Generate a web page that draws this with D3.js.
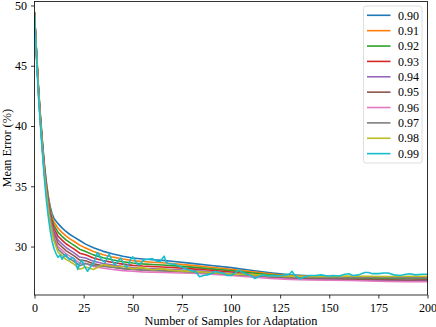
<!doctype html>
<meta charset="utf-8">
<body style="margin:0;background:#fff">

<div id="chart"></div>

<script src="https://d3js.org/d3.v7.min.js"></script>
<script>

// sample counts shared by the 0.90 - 0.98 curves
const samples = [0, 1, 2, 3, 4, 5, 6, 7, 8, 9, 10, 12, 14, 16, 18, 20, 23, 26, 30,
  35, 40, 45, 50, 55, 60, 65, 70, 80, 90, 100, 110, 120, 130, 140, 150, 160, 170, 180, 190, 200]

const err090 = [49.4, 46.3, 43.3, 40.9, 38.8, 36.9, 35.4, 34.2, 33.3, 32.7, 32.3, 31.9, 31.55, 31.25, 31.0, 30.8, 30.5, 30.2, 29.9,
  29.6, 29.38, 29.2, 29.05, 28.97, 28.9, 28.85, 28.78, 28.6, 28.43, 28.25, 28.03, 27.83, 27.66, 27.57, 27.52, 27.49, 27.47, 27.45, 27.44, 27.43]
const err091 = [49.38, 46.24, 43.22, 40.8, 38.68, 36.76, 35.24, 34.02, 33.08, 32.44, 32.0, 31.52, 31.18, 30.88, 30.64, 30.44, 30.12, 29.88, 29.59,
  29.32, 29.12, 28.96, 28.83, 28.76, 28.7, 28.65, 28.59, 28.44, 28.28, 28.12, 27.92, 27.74, 27.58, 27.52, 27.49, 27.46, 27.44, 27.41, 27.40, 27.39]
const err092 = [49.36, 46.19, 43.15, 40.71, 38.57, 36.63, 35.1, 33.86, 32.88, 32.21, 31.73, 31.18, 30.85, 30.55, 30.32, 30.12, 29.78, 29.59, 29.31,
  29.07, 28.89, 28.74, 28.63, 28.56, 28.51, 28.47, 28.42, 28.29, 28.15, 28.0, 27.82, 27.65, 27.53, 27.47, 27.42, 27.40, 27.37, 27.34, 27.33, 27.32]
const err093 = [49.34, 46.13, 43.08, 40.62, 38.47, 36.51, 34.96, 33.7, 32.69, 31.98, 31.47, 30.85, 30.53, 30.23, 30.01, 29.81, 29.45, 29.32, 29.05,
  28.83, 28.68, 28.54, 28.44, 28.38, 28.34, 28.3, 28.26, 28.15, 28.03, 27.89, 27.7, 27.52, 27.39, 27.31, 27.26, 27.24, 27.2, 27.14, 27.12, 27.12]
const err094 = [49.33, 46.08, 43.01, 40.54, 38.37, 36.4, 34.82, 33.55, 32.51, 31.76, 31.22, 30.53, 30.22, 29.92, 29.7, 29.5, 29.13, 29.05, 28.78,
  28.59, 28.46, 28.34, 28.26, 28.2, 28.17, 28.13, 28.1, 28.01, 27.9, 27.78, 27.6, 27.46, 27.36, 27.3, 27.26, 27.24, 27.21, 27.17, 27.15, 27.15]
const err095 = [49.31, 46.04, 42.96, 40.47, 38.28, 36.3, 34.71, 33.43, 32.35, 31.58, 31.01, 30.27, 29.96, 29.66, 29.45, 29.25, 28.87, 28.82, 28.57,
  28.4, 28.28, 28.17, 28.1, 28.05, 28.02, 27.99, 27.96, 27.89, 27.8, 27.69, 27.59, 27.48, 27.39, 27.35, 27.33, 27.3, 27.27, 27.24, 27.23, 27.24]
const err096 = [49.3, 46.0, 42.9, 40.4, 38.2, 36.2, 34.6, 33.3, 32.2, 31.4, 30.8, 30.0, 29.7, 29.4, 29.2, 29.0, 28.6, 28.6, 28.35,
  28.2, 28.1, 28.0, 27.95, 27.9, 27.88, 27.85, 27.83, 27.78, 27.7, 27.6, 27.48, 27.36, 27.28, 27.23, 27.2, 27.18, 27.14, 27.1, 27.08, 27.08]
const err097 = [49.29, 45.96, 42.85, 40.34, 38.13, 36.12, 34.5, 33.19, 32.07, 31.24, 30.62, 29.77, 29.48, 29.18, 28.98, 28.78, 28.41, 28.6, 28.43,
  28.34, 28.29, 28.18, 28.11, 28.06, 28.03, 28.0, 27.97, 27.9, 27.81, 27.7, 27.62, 27.52, 27.45, 27.42, 27.41, 27.41, 27.42, 27.41, 27.4, 27.39]
const err098 = [49.28, 45.92, 42.8, 40.27, 38.05, 36.02, 34.4, 33.07, 31.92, 31.07, 30.42, 29.52, 29.24, 28.94, 28.75, 28.55, 28.12, 28.3, 28.1,
  28.5, 28.36, 28.35, 28.17, 28.25, 28.08, 28.15, 28.02, 27.94, 27.85, 27.73, 27.67, 27.59, 27.55, 27.52, 27.52, 27.55, 27.54, 27.52, 27.54, 27.53]

// the 0.99 curve is noisier, so it has its own finer sample counts
const samples099 = [0, 1, 2, 3, 4, 5, 6, 7, 8, 9,
  10, 11, 12, 13, 14, 15, 16, 17, 18, 19,
  20, 21, 22, 23, 24, 25, 26, 27, 28, 29,
  30, 31, 32, 33, 34, 35, 36, 37, 38, 39,
  40, 41, 42, 43, 44, 45, 46, 47, 48, 49,
  50, 51, 52, 53, 54, 55, 56, 58, 60, 62,
  64, 65, 66, 67, 68, 70, 72, 74, 76, 78,
  80, 82, 84, 86, 88, 90, 92, 94, 96, 98,
  100, 102, 104, 106, 108, 110, 112, 114, 116, 118,
  120, 122, 124, 126, 128, 130, 131, 132, 134, 135,
  137, 140, 143, 146, 149, 152, 155, 158, 160, 162,
  165, 168, 170, 172, 175, 178, 180, 183, 186, 189,
  191, 194, 197, 200]
const err099 = [49.2, 45.7, 42.5, 40.1, 37.8, 35.7, 33.9, 32.5, 31.3, 30.4,
  29.8, 29.4, 29.1, 29.3, 28.95, 29.2, 29.35, 29.05, 28.9, 29.1,
  29.0, 28.7, 28.1, 28.6, 28.9, 28.5, 28.2, 27.95, 28.2, 28.45,
  28.6, 29.0, 29.5, 29.3, 28.9, 28.8, 28.7, 29.1, 29.35, 29.0,
  28.7, 28.5, 28.7, 28.9, 29.05, 28.7, 28.4, 28.3, 28.6, 28.95,
  29.15, 28.9, 28.6, 28.45, 28.6, 28.8, 28.9, 28.95, 29.0, 28.8,
  28.75, 29.0, 29.2, 28.7, 28.6, 28.55, 28.5, 28.35, 28.2, 28.1,
  28.0, 27.9, 27.5, 27.6, 27.65, 27.75, 27.95, 27.85, 27.8, 27.6,
  27.6, 27.8, 28.05, 27.85, 27.7, 27.6, 27.35, 27.5, 27.65, 27.6,
  27.55, 27.6, 27.55, 27.6, 27.65, 27.75, 27.95, 27.7, 27.45, 27.3,
  27.45, 27.6, 27.6, 27.65, 27.55, 27.6, 27.55, 27.7, 27.75, 27.6,
  27.65, 27.85, 27.85, 27.75, 27.75, 27.8, 27.8, 27.65, 27.6, 27.7,
  27.75, 27.65, 27.7, 27.7]

const labels = ["0.90", "0.91", "0.92", "0.93", "0.94", "0.95", "0.96", "0.97", "0.98", "0.99"]
const xTicks = [0, 25, 50, 75, 100, 125, 150, 175, 200]
const yTicks = [30, 35, 40, 45, 50]

const colors = ["#1f77b4", "#ff7f0e", "#2ca02c", "#d62728", "#9467bd",
  "#8c564b", "#e377c2", "#7f7f7f", "#bcbd22", "#17becf"]

const values = [err090, err091, err092, err093, err094, err095, err096, err097, err098, err099]
const series = labels.map((label, i) => {
  const xs = i === 9 ? samples099 : samples
  return { label, color: colors[i], points: xs.map((n, j) => [n, values[i][j]]) }
})

function main () {
  const W = 436
  const H = 327
  const margin = { top: 1.5, right: 8.5, bottom: 32, left: 34.5 }
  const width = W - margin.left - margin.right
  const height = H - margin.top - margin.bottom
  const font = "'Liberation Serif', 'Times New Roman', serif"

  const svg = d3.select("#chart").append("svg")
    .attr("width", W)
    .attr("height", H)
    .style("font-family", font)

  const g = svg.append("g")
    .attr("transform", "translate(" + margin.left + "," + margin.top + ")")

  const x = d3.scaleLinear().domain([0, 200]).range([0, width])
  const y = d3.scaleLinear().domain([25.98, 50.33]).range([height, 0])

  g.append("clipPath").attr("id", "clip")
    .append("rect").attr("width", width).attr("height", height)

  const line = d3.line()
    .x(d => x(d[0]))
    .y(d => y(d[1]))

  g.append("g").attr("clip-path", "url(#clip)")
    .selectAll("path")
    .data(series)
    .join("path")
    .attr("d", d => line(d.points))
    .attr("fill", "none")
    .attr("stroke", d => d.color)
    .attr("stroke-width", 1.6)
    .attr("stroke-linejoin", "round")
    .attr("stroke-linecap", "square")

  const xAxis = g.append("g")
    .attr("transform", "translate(0," + height + ")")
    .call(d3.axisBottom(x).tickValues(xTicks).tickSize(3.5).tickPadding(4.5))
  const yAxis = g.append("g")
    .call(d3.axisLeft(y).tickValues(yTicks).tickSize(3.5).tickPadding(4))

  for (const ax of [xAxis, yAxis]) {
    ax.select(".domain").remove()
    ax.selectAll(".tick line").attr("stroke", "#000").attr("stroke-width", 0.8)
    ax.selectAll(".tick text")
      .style("font-family", font)
      .style("font-size", "12px")
      .attr("fill", "#000")
  }

  // frame round the plot
  g.append("rect")
    .attr("width", width)
    .attr("height", height)
    .attr("fill", "none")
    .attr("stroke", "#000")
    .attr("stroke-width", 0.8)

  svg.append("text")
    .attr("x", margin.left + width / 2)
    .attr("y", 324.5)
    .attr("text-anchor", "middle")
    .style("font-size", "12.3px")
    .text("Number of Samples for Adaptation")

  svg.append("text")
    .attr("transform", "translate(11," + (margin.top + height / 2) + ") rotate(-90)")
    .attr("text-anchor", "middle")
    .style("font-size", "12.3px")
    .text("Mean Error (%)")

  // legend
  const legend = svg.append("g").attr("transform", "translate(363.5,6)")
  legend.append("rect")
    .attr("width", 58.5)
    .attr("height", 157)
    .attr("rx", 2.5)
    .attr("fill", "#fff")
    .attr("fill-opacity", 0.8)
    .attr("stroke", "#d6d6d6")
    .attr("stroke-width", 0.8)

  const rows = legend.selectAll("g.row")
    .data(series)
    .join("g")
    .attr("class", "row")
    .attr("transform", (d, i) => "translate(0," + (9.3 + i * 15.37) + ")")
  rows.append("line")
    .attr("x1", 3.5).attr("x2", 27)
    .attr("stroke", d => d.color)
    .attr("stroke-width", 1.6)
  rows.append("text")
    .attr("x", 34.5)
    .attr("dy", "0.35em")
    .style("font-size", "12px")
    .text(d => d.label)
}

main()

</script>
</body>
